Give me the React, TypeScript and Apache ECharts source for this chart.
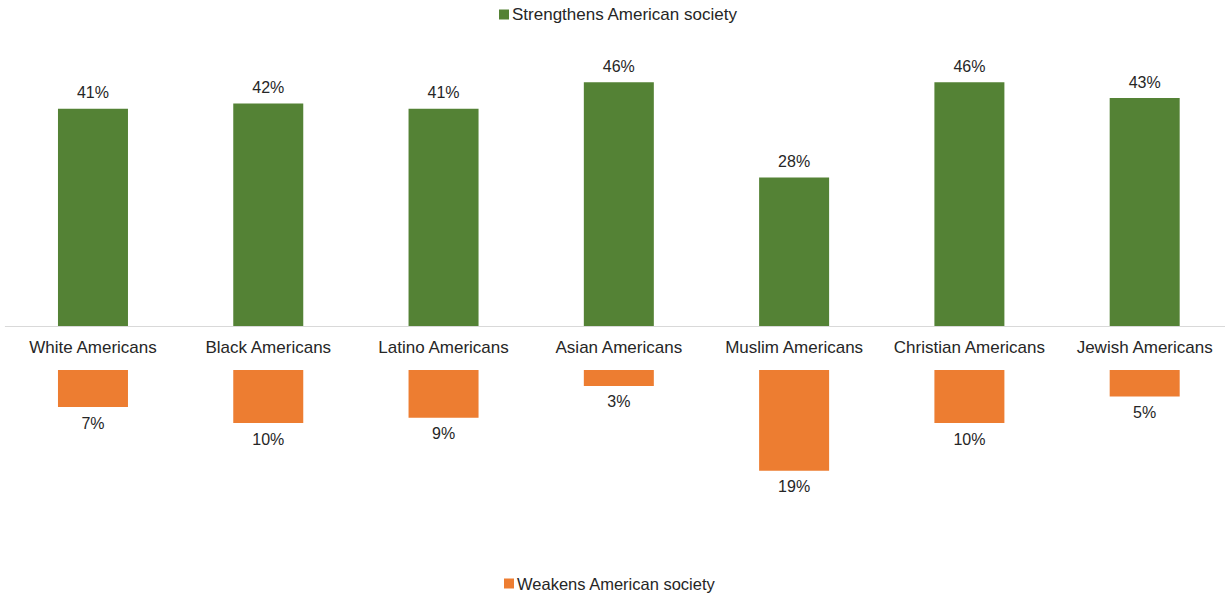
import React, { useEffect, useRef } from "react";
import * as echarts from "echarts";

const categories = [
  "White Americans",
  "Black Americans",
  "Latino Americans",
  "Asian Americans",
  "Muslim Americans",
  "Christian Americans",
  "Jewish Americans",
];
const strengthens = [41, 42, 41, 46, 28, 46, 43];
const weakens = [7, 10, 9, 3, 19, 10, 5];

const FONT = "Liberation Sans";
const TEXT = "#262626";

export default function App() {
  const ref = useRef<HTMLDivElement>(null);
  useEffect(() => {
    if (!ref.current) return;
    const chart = echarts.init(ref.current, null, { renderer: "svg" });
    chart.setOption({
      animation: false,
      backgroundColor: "#ffffff",
      textStyle: { fontFamily: FONT, color: TEXT },
      legend: [
        {
          data: ["Strengthens American society"],
          top: 1,
          left: 494,
          icon: "rect",
          itemWidth: 10,
          itemHeight: 10,
          itemGap: 4,
          textStyle: { fontFamily: FONT, fontSize: 17, color: TEXT, padding: [0, 0, 0, -2] },
        },
        {
          data: ["Weakens American society"],
          top: 570,
          left: 499,
          icon: "rect",
          itemWidth: 10,
          itemHeight: 10,
          textStyle: { fontFamily: FONT, fontSize: 16.5, color: TEXT, padding: [0, 0, 0, -2] },
        },
      ],
      grid: [
        { left: 5.33, top: 61, width: 1227, height: 265, containLabel: false },
        { left: 5.33, top: 370, width: 1227, height: 106, containLabel: false },
      ],
      xAxis: [
        {
          type: "category",
          gridIndex: 0,
          data: categories,
          axisLine: { show: true, lineStyle: { color: "#d9d9d9", width: 1 } },
          axisTick: { show: false },
          axisLabel: { interval: 0, margin: 13, fontSize: 17, color: TEXT, fontFamily: FONT },
        },
        {
          type: "category",
          gridIndex: 1,
          data: categories,
          show: false,
        },
      ],
      yAxis: [
        { type: "value", gridIndex: 0, min: 0, max: 50, show: false, splitLine: { show: false } },
        { type: "value", gridIndex: 1, min: 0, max: 20, inverse: true, show: false, splitLine: { show: false } },
      ],
      series: [
        {
          name: "Strengthens American society",
          type: "bar",
          xAxisIndex: 0,
          yAxisIndex: 0,
          data: strengthens,
          barWidth: 70,
          itemStyle: { color: "#548235" },
          label: {
            show: true,
            position: "top",
            distance: 8,
            formatter: "{c}%",
            fontSize: 16,
            color: TEXT,
            fontFamily: FONT,
          },
        },
        {
          name: "Weakens American society",
          type: "bar",
          xAxisIndex: 1,
          yAxisIndex: 1,
          data: weakens,
          barWidth: 70,
          itemStyle: { color: "#ED7D31" },
          label: {
            show: true,
            position: "bottom",
            distance: 8,
            formatter: "{c}%",
            fontSize: 16,
            color: TEXT,
            fontFamily: FONT,
          },
        },
      ],
    });
    return () => chart.dispose();
  }, []);
  return (
    <div
      style={{
        position: "fixed",
        left: 0,
        top: 0,
        width: 1225,
        height: 595,
        overflow: "hidden",
        background: "#ffffff",
      }}
    >
      <div ref={ref} style={{ width: 1233, height: 595 }} />
    </div>
  );
}
